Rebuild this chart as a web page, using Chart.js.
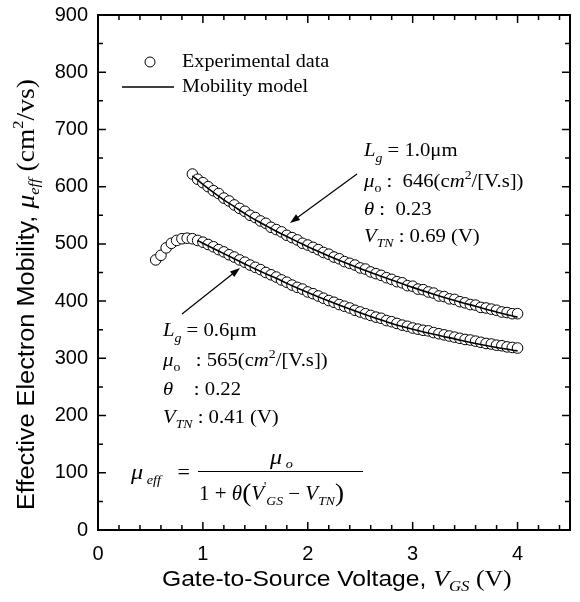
<!DOCTYPE html>
<html>
<head>
<meta charset="utf-8">
<script src="https://cdn.jsdelivr.net/npm/chart.js@4"></script>
<style>
  html, body { margin: 0; padding: 0; background: #fff; }
  #chart { display: block; }
</style>
</head>
<body>
<canvas id="chart" width="580" height="602"></canvas>
<script>
/*  Data  */
// Lg = 1.0um, experimental points
const vgsLong = [
  0.90, 0.95, 1.00, 1.05, 1.10, 1.15, 1.20, 1.25, 1.30, 1.35,
  1.40, 1.45, 1.50, 1.55, 1.60, 1.65, 1.70, 1.75, 1.80, 1.85,
  1.90, 1.95, 2.00, 2.05, 2.10, 2.15, 2.20, 2.25, 2.30, 2.35,
  2.40, 2.45, 2.50, 2.55, 2.60, 2.65, 2.70, 2.75, 2.80, 2.85,
  2.90, 2.95, 3.00, 3.05, 3.10, 3.15, 3.20, 3.25, 3.30, 3.35,
  3.40, 3.45, 3.50, 3.55, 3.60, 3.65, 3.70, 3.75, 3.80, 3.85,
  3.90, 3.95, 4.00];
const muLong = [
  622, 613, 607, 600, 593, 588, 580, 575, 568, 562,
  557, 550, 546, 540, 536, 529, 525, 521, 515, 511,
  507, 501, 498, 494, 490, 485, 482, 477, 474, 469,
  466, 463, 458, 456, 451, 448, 445, 441, 438, 434,
  432, 427, 426, 421, 420, 416, 414, 409, 408, 404,
  403, 399, 397, 394, 393, 389, 388, 386, 384, 381,
  380, 378, 378];

// Lg = 0.6um, experimental points
const vgsShort = [
  0.55, 0.60, 0.65, 0.70, 0.75, 0.80, 0.85, 0.90, 0.95, 1.00,
  1.05, 1.10, 1.15, 1.20, 1.25, 1.30, 1.35, 1.40, 1.45, 1.50,
  1.55, 1.60, 1.65, 1.70, 1.75, 1.80, 1.85, 1.90, 1.95, 2.00,
  2.05, 2.10, 2.15, 2.20, 2.25, 2.30, 2.35, 2.40, 2.45, 2.50,
  2.55, 2.60, 2.65, 2.70, 2.75, 2.80, 2.85, 2.90, 2.95, 3.00,
  3.05, 3.10, 3.15, 3.20, 3.25, 3.30, 3.35, 3.40, 3.45, 3.50,
  3.55, 3.60, 3.65, 3.70, 3.75, 3.80, 3.85, 3.90, 3.95, 4.00];
const muShort = [
  472, 480, 493, 501, 506, 509, 510, 509, 506, 503,
  499, 495, 490, 486, 481, 477, 472, 468, 463, 459,
  455, 450, 446, 442, 437, 433, 428, 424, 421, 416,
  413, 409, 405, 401, 398, 394, 391, 388, 384, 381,
  378, 375, 372, 370, 366, 364, 361, 358, 356, 353,
  351, 349, 348, 345, 343, 341, 339, 337, 335, 333,
  332, 330, 328, 326, 325, 323, 322, 320, 319, 318];

// mobility model curves
const modelVgsLong = [0.90, 1.00, 1.10, 1.20, 1.30, 1.40, 1.50, 1.60, 1.70, 1.80, 1.90,
  2.00, 2.20, 2.40, 2.60, 2.80, 3.00, 3.20, 3.40, 3.60, 3.80, 4.00];
const modelMuLong = [619, 604, 590, 577, 565, 553, 542, 532, 522, 513, 504,
  495, 479, 464, 450, 437, 424, 412, 401, 391, 381, 372];
const modelVgsShort = [0.95, 1.00, 1.10, 1.20, 1.30, 1.40, 1.50, 1.60, 1.70, 1.80, 1.90,
  2.00, 2.20, 2.40, 2.60, 2.80, 3.00, 3.20, 3.40, 3.60, 3.80, 4.00];
const modelMuShort = [506, 501, 492, 483, 474, 465, 456, 448, 440, 431, 423,
  415, 400, 386, 373, 361, 351, 342, 334, 326, 319, 313];

const xRange = [0, 4.5];
const yRange = [0, 900];
const legendLabels = ["Experimental data", "Mobility model"];

const SANS = "'Liberation Sans', Arial, sans-serif";
const SERIF = "'Liberation Serif', 'Times New Roman', serif";

function toPoints(xs, ys) {
    return xs.map((x, i) => ({ x, y: ys[i] }));
}

/*  draw a run of text pieces: [text, font, dy]  */
function drawRich(ctx, x, y, parts, sx = 1) {
    ctx.save();
    ctx.translate(x, y);
    ctx.scale(sx, 1);
    ctx.textBaseline = "alphabetic";
    ctx.textAlign = "left";
    let cx = 0;
    for (const [text, font, dy] of parts) {
        ctx.font = font;
        ctx.fillText(text, cx, dy || 0);
        cx += ctx.measureText(text).width;
    }
    ctx.restore();
}

function drawArrow(ctx, x1, y1, x2, y2) {
    const a = Math.atan2(y2 - y1, x2 - x1);
    const len = 10, hw = 3.5;
    ctx.save();
    ctx.lineWidth = 1.2;
    ctx.beginPath();
    ctx.moveTo(x1, y1);
    ctx.lineTo(x2 - Math.cos(a) * len * 0.8, y2 - Math.sin(a) * len * 0.8);
    ctx.stroke();
    ctx.beginPath();
    ctx.moveTo(x2, y2);
    ctx.lineTo(x2 - Math.cos(a) * len - Math.sin(a) * hw, y2 - Math.sin(a) * len + Math.cos(a) * hw);
    ctx.lineTo(x2 - Math.cos(a) * len + Math.sin(a) * hw, y2 - Math.sin(a) * len - Math.cos(a) * hw);
    ctx.closePath();
    ctx.fill();
    ctx.restore();
}

/*  frame, inward ticks, titles, legend, notes  */
const decorPlugin = {
    id: "decor",
    afterDraw(chart) {
        const ctx = chart.ctx;
        const { left, right, top, bottom } = chart.chartArea;
        const xs = chart.scales.x, ys = chart.scales.y;
        ctx.save();
        ctx.strokeStyle = "#000";
        ctx.fillStyle = "#000";

        // frame
        ctx.lineWidth = 2;
        ctx.strokeRect(left, top, right - left, bottom - top);

        // ticks (inside)
        ctx.lineWidth = 1.5;
        ctx.beginPath();
        for (let i = 0; i <= 22; i++) {
            const px = xs.getPixelForValue(i * 0.2);
            const len = i % 5 === 0 ? 8 : 5;
            ctx.moveTo(px, bottom); ctx.lineTo(px, bottom - len);
            ctx.moveTo(px, top); ctx.lineTo(px, top + len);
        }
        for (let i = 0; i <= 18; i++) {
            const py = ys.getPixelForValue(i * 50);
            const len = i % 2 === 0 ? 8 : 5;
            ctx.moveTo(left, py); ctx.lineTo(left + len, py);
            ctx.moveTo(right, py); ctx.lineTo(right - len, py);
        }
        ctx.stroke();

        // legend
        ctx.lineWidth = 1;
        ctx.beginPath();
        ctx.arc(150, 62, 5, 0, Math.PI * 2);
        ctx.fillStyle = "#fff";
        ctx.fill();
        ctx.stroke();
        ctx.fillStyle = "#000";
        ctx.lineWidth = 1.5;
        ctx.beginPath();
        ctx.moveTo(122, 87); ctx.lineTo(174, 87);
        ctx.stroke();
        drawRich(ctx, 182, 67, [[legendLabels[0], "18px " + SERIF]], 1.12);
        drawRich(ctx, 182, 92, [[legendLabels[1], "18px " + SERIF]], 1.12);

        const f = "18px " + SERIF, fi = "italic 18px " + SERIF;
        const sub = "12px " + SERIF, subi = "italic 12px " + SERIF;

        // Lg = 1.0um note
        drawRich(ctx, 364, 156, [["L", fi], ["g", subi, 6], [" = 1.0\u03bcm", f]], 1.15);
        drawRich(ctx, 364, 187, [["\u03bc", fi], ["o", sub, 5], [" :  646(c", f], ["m", fi], ["2", sub, -8], ["/[V.s])", f]], 1.15);
        drawRich(ctx, 364, 215, [["\u03b8", fi], [" :  0.23", f]], 1.15);
        drawRich(ctx, 364, 242, [["V", fi], ["TN", subi, 5], [" : 0.69 (V)", f]], 1.15);
        drawArrow(ctx, 357, 174, 290, 223);

        // Lg = 0.6um note
        drawRich(ctx, 163, 336, [["L", fi], ["g", subi, 6], [" = 0.6\u03bcm", f]], 1.15);
        drawRich(ctx, 163, 366, [["\u03bc", fi], ["o", sub, 5], ["   : 565(c", f], ["m", fi], ["2", sub, -8], ["/[V.s])", f]], 1.15);
        drawRich(ctx, 163, 395, [["\u03b8", fi], ["    : 0.22", f]], 1.15);
        drawRich(ctx, 163, 423, [["V", fi], ["TN", subi, 5], [" : 0.41 (V)", f]], 1.15);
        drawArrow(ctx, 182, 314, 240, 268);

        // model equation
        const ef = "20px " + SERIF, efi = "italic 20px " + SERIF;
        const es = "italic 13px " + SERIF;
        drawRich(ctx, 131, 479, [["\u03bc", "italic 22px " + SERIF], [" eff", es, 5], ["   = ", ef]], 1.1);
        ctx.lineWidth = 1.2;
        ctx.beginPath();
        ctx.moveTo(198, 471.5); ctx.lineTo(363, 471.5);
        ctx.stroke();
        drawRich(ctx, 270, 464, [["\u03bc", "italic 22px " + SERIF], [" o", es, 4]], 1.1);
        drawRich(ctx, 199, 500, [["1 + ", ef], ["\u03b8", efi], ["(", "26px " + SERIF, 1], ["V", efi],
            ["'", "12px " + SERIF, -10], ["GS", es, 5], [" \u2212 ", ef], ["V", efi], ["TN", es, 5], [")", "26px " + SERIF, 1]], 1.05);

        // x-axis title
        drawRich(ctx, 162, 586, [["Gate-to-Source Voltage, ", "22px " + SANS], ["V", "italic 23px " + SERIF],
            ["GS", "italic 15px " + SERIF, 5], [" (V)", "23px " + SERIF]], 1.12);

        // y-axis title (rotated)
        ctx.save();
        ctx.translate(34, 510);
        ctx.rotate(-Math.PI / 2);
        drawRich(ctx, 0, 0, [["Effective Electron Mobility, ", "23px " + SANS], ["\u03bc", "italic 25px " + SERIF],
            ["eff", "italic 15px " + SERIF, 5], [" (cm", "25px " + SERIF], ["2", "15px " + SERIF, -11], ["/vs)", "25px " + SERIF]], 1.1);
        ctx.restore();

        ctx.restore();
    }
};

new Chart(document.getElementById("chart"), {
    type: "scatter",
    data: {
        datasets: [
            {
                type: "line",
                label: "Mobility model (1.0um)",
                data: toPoints(modelVgsLong, modelMuLong),
                borderColor: "#000",
                borderWidth: 1.6,
                pointRadius: 0,
                cubicInterpolationMode: "monotone",
                fill: false,
                order: 0
            },
            {
                type: "line",
                label: "Mobility model (0.6um)",
                data: toPoints(modelVgsShort, modelMuShort),
                borderColor: "#000",
                borderWidth: 1.6,
                pointRadius: 0,
                cubicInterpolationMode: "monotone",
                fill: false,
                order: 1
            },
            {
                label: "Experimental (1.0um)",
                data: toPoints(vgsLong, muLong),
                showLine: false,
                pointRadius: 5.3,
                pointBorderWidth: 1,
                pointBorderColor: "#000",
                pointBackgroundColor: "#fff",
                order: 2
            },
            {
                label: "Experimental (0.6um)",
                data: toPoints(vgsShort, muShort),
                showLine: false,
                pointRadius: 5.3,
                pointBorderWidth: 1,
                pointBorderColor: "#000",
                pointBackgroundColor: "#fff",
                order: 3
            }
        ]
    },
    options: {
        responsive: false,
        animation: false,
        devicePixelRatio: 1,
        layout: { padding: { top: 15, right: 10, left: 0, bottom: 0 } },
        plugins: {
            legend: { display: false },
            tooltip: { enabled: false }
        },
        scales: {
            x: {
                type: "linear",
                min: xRange[0],
                max: xRange[1],
                grid: { display: false },
                border: { display: false },
                ticks: {
                    stepSize: 1,
                    includeBounds: false,
                    color: "#000",
                    padding: 4,
                    font: { family: SANS, size: 20 }
                },
                afterFit(scale) { scale.height = 72; }
            },
            y: {
                type: "linear",
                min: yRange[0],
                max: yRange[1],
                grid: { display: false },
                border: { display: false },
                ticks: {
                    stepSize: 100,
                    color: "#000",
                    padding: 2,
                    font: { family: SANS, size: 20 }
                },
                afterFit(scale) { scale.width = 98; }
            }
        }
    },
    plugins: [decorPlugin]
});
</script>
</body>
</html>
